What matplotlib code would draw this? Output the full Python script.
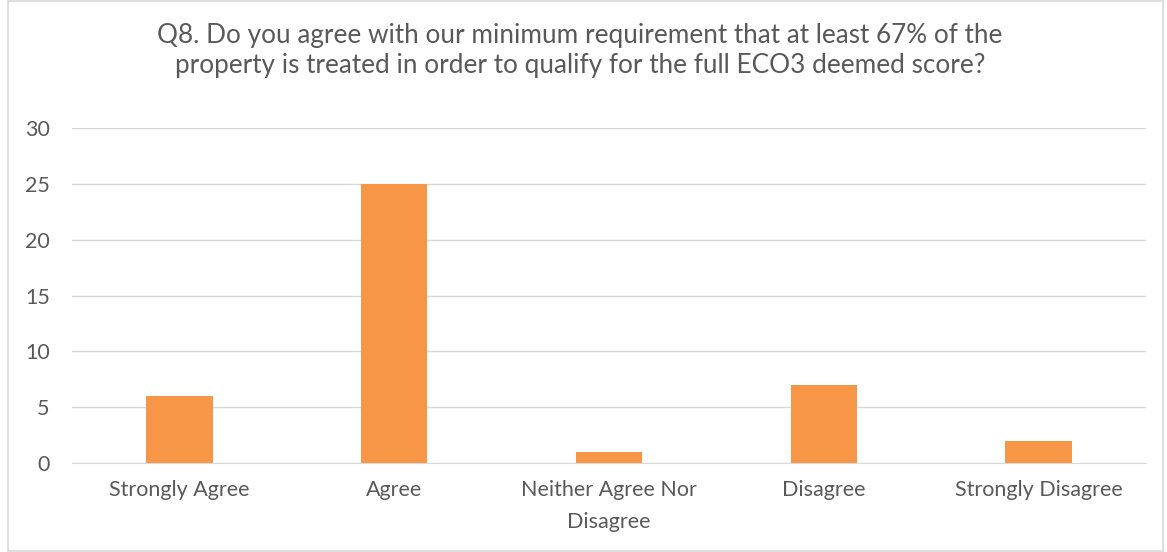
import matplotlib.pyplot as plt
from matplotlib.patches import Rectangle

categories = ["Strongly Agree", "Agree", "Neither Agree Nor\nDisagree", "Disagree", "Strongly Disagree"]
counts = [6, 25, 1, 7, 2]
yticks = [0, 5, 10, 15, 20, 25, 30]
title = ("Q8. Do you agree with our minimum requirement that at least 67% of the\n"
         "property is treated in order to qualify for the full ECO3 deemed score?")

plt.rcParams['font.family'] = ['Lato', 'DejaVu Sans']
text_col = "#595959"

fig = plt.figure(figsize=(11.67, 5.52), dpi=100)
fig.patches.append(Rectangle((0.007, 0.002), 0.99, 0.996, transform=fig.transFigure,
                             fill=False, edgecolor="#D9D9D9", linewidth=1.2))

ax = fig.add_axes([72/1167, 1 - 463/552, (1146 - 72)/1167, (463 - 128)/552])
x = range(len(categories))
ax.bar(x, counts, width=0.31, color="#F79646", zorder=3)

ax.set_xlim(-0.5, len(categories) - 0.5)
ax.set_ylim(0, 30)
ax.set_yticks(yticks)
ax.set_xticks(list(x))
ax.set_xticklabels(categories, fontsize=15.5, color=text_col, linespacing=1.8)
ax.tick_params(axis='y', labelsize=15.5, labelcolor=text_col, length=0, pad=16)
ax.tick_params(axis='x', length=0, pad=12)
ax.grid(axis='y', color="#D9D9D9", linewidth=1, zorder=0)
for s in ["top", "right", "left"]:
    ax.spines[s].set_visible(False)
ax.spines["bottom"].set_color("#D9D9D9")
ax.spines["bottom"].set_zorder(4)

fig.text(0.497, 0.959, title, ha="center", va="top", fontsize=18.8,
         color=text_col, linespacing=1.25)

fig.savefig("out.png", dpi=100)
